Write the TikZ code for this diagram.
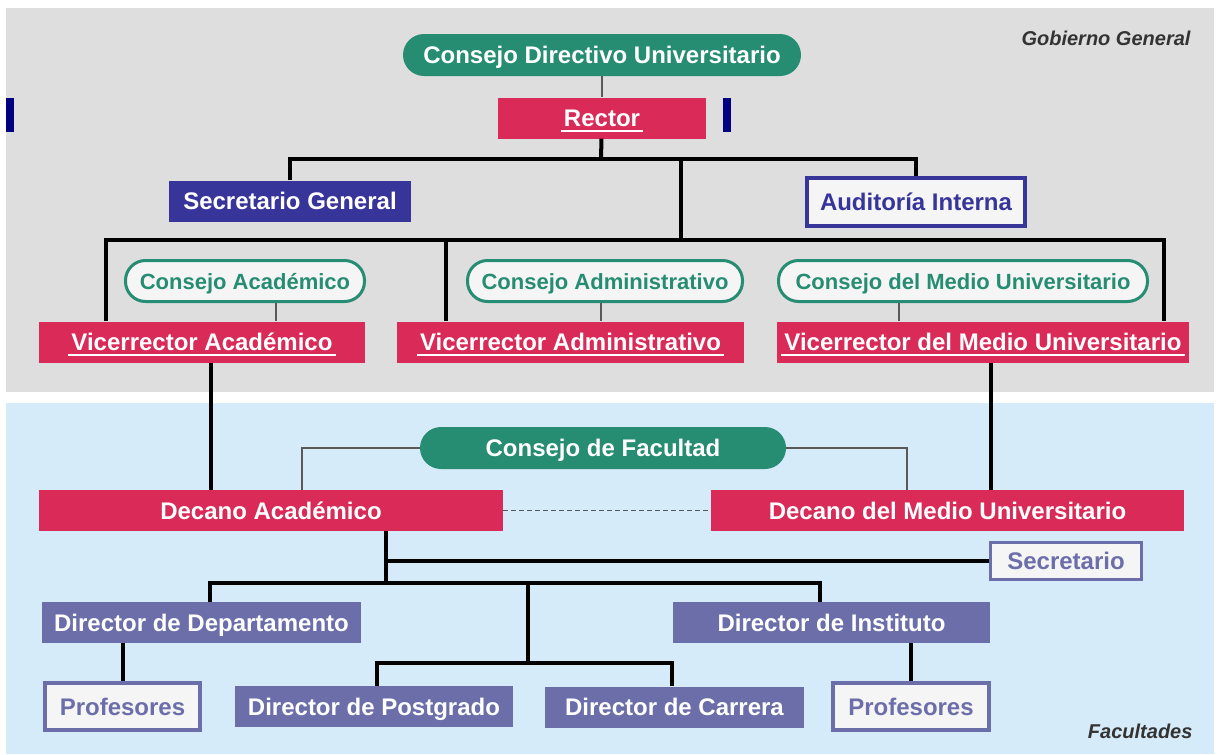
\documentclass[tikz,border=0pt]{standalone}
\usepackage{fontspec}
\setmainfont{Liberation Sans}

\definecolor{govgray}{HTML}{DEDEDE}
\definecolor{facblue}{HTML}{D6EBF9}
\definecolor{rosered}{HTML}{D92A58}
\definecolor{cdugreen}{HTML}{268C72}
\definecolor{indigo}{HTML}{37349A}
\definecolor{dirpurple}{HTML}{6C6EAA}
\definecolor{boxfill}{HTML}{F5F5F5}
\definecolor{barnavy}{HTML}{000080}

\newcommand{\undertext}[1]{\setbox0=\hbox{#1}\rlap{\hspace{-3pt}\raisebox{-5pt}{\rule{\dimexpr\wd0+6pt\relax}{1.6pt}}}\box0}

\begin{document}
\begin{tikzpicture}
[ x=1pt, y=-1pt,
big/.style={font=\fontsize{24}{28}\selectfont\bfseries, text height=17pt, text depth=0pt},
small/.style={font=\fontsize{22}{26}\selectfont\bfseries, text height=16pt, text depth=0pt},
post/.style ={rectangle, big, fill=rosered, text=white, inner sep=0pt,
 minimum height=41pt},
council/.style ={rectangle, rounded corners=21pt, big, fill=cdugreen,
 text=white, inner sep=0pt, minimum height=42pt},
subcouncil/.style ={rectangle, rounded corners=20pt, small, draw=cdugreen,
 line width=3pt, fill=boxfill, text=cdugreen, inner sep=0pt, minimum height=41pt},
staff/.style ={rectangle, big, fill=indigo, text=white, inner sep=0pt,
 minimum height=41pt},
director/.style ={rectangle, big, fill=dirpurple, text=white, inner sep=0pt,
 minimum height=41pt},
framed/.style ={rectangle, big, draw=#1, line width=4pt, fill=boxfill,
 text=#1, inner sep=0pt},
trunk/.style ={draw=black, line width=4pt},
link/.style ={draw=black!65, line width=2pt},
region/.style ={font=\fontsize{20}{23}\selectfont\bfseries\itshape, text=black!80},
]
\useasboundingbox (0,0) rectangle (1219,755);
% backgrounds
\fill[govgray] (6,8) rectangle (1214,392);
\fill[facblue] (6,403) rectangle (1214,754);
\fill[barnavy] (6,98) rectangle (14,132);
\fill[barnavy] (723,98) rectangle (731,132);
\node[region, anchor=base east] (gobierno) at (1194,45) {Gobierno General};
\node[region, anchor=base east] (facultades) at (1196,738) {Facultades};

% row 1
\node (cdu) [council, minimum width=398pt] at (602,55) {Consejo Directivo Universitario};
% row 2
\node (rector) [post, minimum width=208pt] at (602,118) {\undertext{Rector}};
% row 3
\node (secgen) [staff, minimum width=242pt] at (290,201) {Secretario General};
\node (audit) [framed=indigo, minimum width=218pt, minimum height=48pt] at (916,202) {Auditoría Interna};
% row 4
\node (cacad) [subcouncil, minimum width=239pt] at (245,281) {Consejo Académico};
\node (cadm) [subcouncil, minimum width=275pt] at (605,281) {Consejo Administrativo};
\node (cmedio) [subcouncil, minimum width=369pt] at (963,281) {Consejo del Medio Universitario};
% row 5
\node (vacad) [post, minimum width=326pt] at (202,342) {\undertext{Vicerrector Académico}};
\node (vadm) [post, minimum width=347pt] at (570.5,342) {\undertext{Vicerrector Administrativo}};
\node (vmedio) [post, minimum width=412pt] at (983,342) {\undertext{Vicerrector del Medio Universitario}};
% row 6
\node (cfac) [council, minimum width=366pt] at (603,448) {Consejo de Facultad};
% row 7
\node (dacad) [post, minimum width=464pt] at (271,510.5) {Decano Académico};
\node (dmedio) [post, minimum width=473pt] at (947.5,510.5) {Decano del Medio Universitario};
% row 8
\node (secre) [framed=dirpurple, line width=3pt, minimum width=151pt, minimum height=37pt] at (1066,561) {Secretario};
% row 9
\node (ddep) [director, minimum width=319pt] at (201.5,622.5) {Director de Departamento};
\node (dinst) [director, minimum width=317pt] at (831.5,622.5) {Director de Instituto};
% row 10
\node (prof1) [framed=dirpurple, minimum width=155pt, minimum height=47pt] at (122.5,706.5) {Profesores};
\node (dpost) [director, minimum width=278pt] at (374,706.5) {Director de Postgrado};
\node (dcarr) [director, minimum width=259pt] at (674.5,707) {Director de Carrera};
\node (prof2) [framed=dirpurple, minimum width=156pt, minimum height=47pt] at (911,706.5) {Profesores};

\coordinate (bus1) at (601,159);
\coordinate (bus2) at (681,240);
\coordinate (bus3) at (386,583);
\coordinate (bus4) at (528,663);

\draw[link] (cdu) -- (rector);
\draw[trunk] (rector) -- (bus1);
\draw[trunk] (secgen.north) |- (bus1) -| (audit.north);
\draw[trunk] (bus1 -| bus2) -- (bus2);
\draw[trunk] ([xshift=67pt]vacad.north west) |- (bus2) -| ([xshift=-25pt]vmedio.north east);
\draw[trunk] ([xshift=49pt]vadm.north west) -- ([xshift=49pt]vadm.north west |- bus2);
\draw[link] ([xshift=31pt]cacad.south) -- ([xshift=31pt]cacad.south |- vacad.north);
\draw[link] ([xshift=-4pt]cadm.south) -- ([xshift=-4pt]cadm.south |- vadm.north);
\draw[link] ([xshift=-64pt]cmedio.south) -- ([xshift=-64pt]cmedio.south |- vmedio.north);
\draw[trunk] ([xshift=9pt]vacad.south) -- ([xshift=9pt]vacad.south |- dacad.north);
\draw[trunk] ([xshift=8pt]vmedio.south) -- ([xshift=8pt]vmedio.south |- dmedio.north);
\draw[link] (cfac.west) -| ([xshift=31pt]dacad.north);
\draw[link] (cfac.east) -| ([xshift=-41pt]dmedio.north);
\draw[black!65, line width=1.2pt, dash pattern=on 5pt off 3pt] (dacad.east) -- (dmedio.west);
\draw[trunk] ([xshift=115pt]dacad.south) -- (bus3);
\draw[trunk] (secre.west) -- (secre.west -| bus3);
\draw[trunk] ([xshift=8pt]ddep.north) |- (bus3) -| ([xshift=-12pt]dinst.north);
\draw[trunk] (bus3 -| bus4) -- (bus4);
\draw[trunk] ([xshift=3pt]dpost.north) |- (bus4) -| ([xshift=-3pt]dcarr.north);
\draw[trunk] (prof1.north) -- (prof1.north |- ddep.south);
\draw[trunk] (prof2.north) -- (prof2.north |- dinst.south);
\end{tikzpicture}
\end{document}
